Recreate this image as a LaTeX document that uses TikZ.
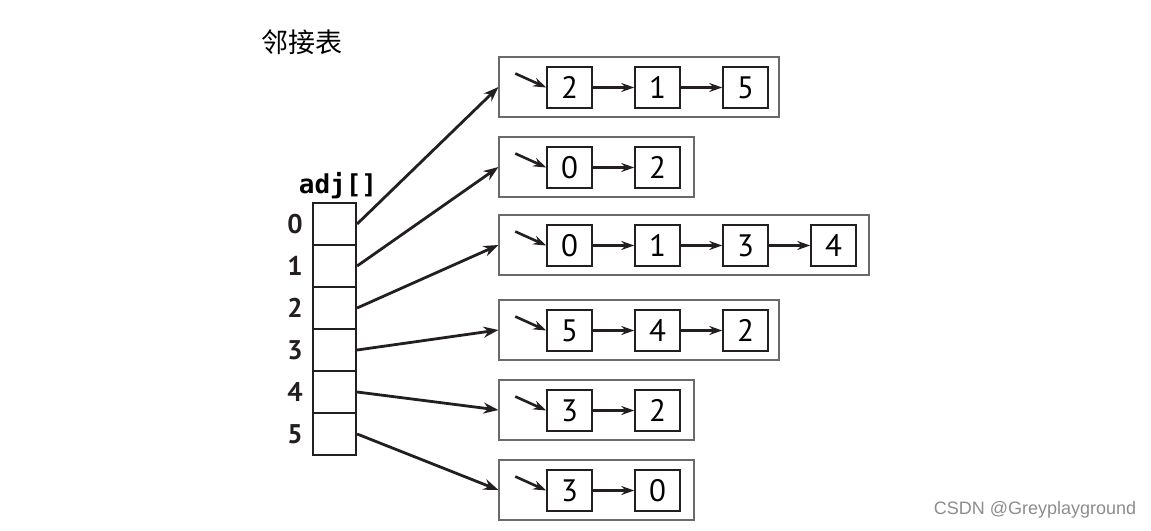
\documentclass[tikz,border=0pt]{standalone}
\usepackage{fontspec}
\setmainfont{PT Sans}
\newfontfamily\cjkfont{Noto Sans CJK SC}
\newfontfamily\monofont{DejaVu Sans Mono}
\newfontfamily\wmfont{Liberation Sans}
\usetikzlibrary{arrows.meta}
\definecolor{ink}{HTML}{231F20}
\definecolor{frame}{HTML}{6A6A6A}
\tikzset{
  cell/.style={draw=ink, line width=2.2pt, minimum width=43pt, minimum height=42pt, inner sep=0pt},
  outerbox/.style={draw=frame, line width=1.1pt, minimum height=60pt, inner sep=0pt},
  item/.style={draw=ink, line width=1.5pt, minimum width=45pt, minimum height=41pt, inner sep=0pt, font=\fontsize{31}{31}\selectfont},
  idx/.style={font=\fontsize{27}{27}\selectfont\bfseries, text=ink},
  bigarrow/.style={draw=ink, line width=2.8pt, -{Stealth[length=15pt,width=11pt]}},
  linkarrow/.style={draw=ink, line width=2.6pt, -{Stealth[length=13pt,width=9pt]}},
}
\begin{document}
\begin{tikzpicture}[x=1pt,y=-1pt]
\useasboundingbox (0,0) rectangle (1151,530);
% title
\node (title) at (302,42) {\cjkfont\fontsize{27}{27}\selectfont 邻接表};
% array
\node (adj) at (338,186) {\monofont\bfseries\fontsize{26}{26}\selectfont adj[]};
\foreach \i in {0,...,5} {
  \node[cell] (c\i) at (334.5,{224+42*\i}) {};
  \node[idx] (l\i) at (295,{224+42*\i}) {\i};
}
% outer boxes: index / top / width
\foreach \i/\t/\w in {0/57/280,1/137/195,2/215/370,3/300/280,4/380/195,5/460/195} {
  \node[outerbox, minimum width=\w pt] (o\i) at ({499+\w/2},{\t+30}) {};
}
% items
\foreach \i/\t/\lst in {0/57/{2,1,5},1/137/{0,2},2/215/{0,1,3,4},3/300/{5,4,2},4/380/{3,2},5/460/{3,0}} {
  \foreach \v [count=\j from 0] in \lst {
    \node[item] (n\i-\j) at ({569.5+88*\j},{\t+30.5}) {\v};
  }
  \coordinate (e\i) at ([xshift=-31pt,yshift=14pt]n\i-0.west);
  \draw[linkarrow] (e\i) -- (n\i-0.west);
}
% links between items
\foreach \i/\n in {0/2,1/1,2/3,3/2,4/1,5/1} {
  \foreach \j in {1,...,\n} {
    \pgfmathtruncatemacro\k{\j-1}
    \draw[linkarrow] (n\i-\k.east) -- (n\i-\j.west);
  }
}
% array to lists
\foreach \i in {0,...,5} {
  \draw[bigarrow] (c\i.east) -- (o\i.west);
}
% watermark
\node[text=black!45] (wm) at (1035,510) {\wmfont\fontsize{18}{18}\selectfont CSDN @Greyplayground};
\end{tikzpicture}
\end{document}
